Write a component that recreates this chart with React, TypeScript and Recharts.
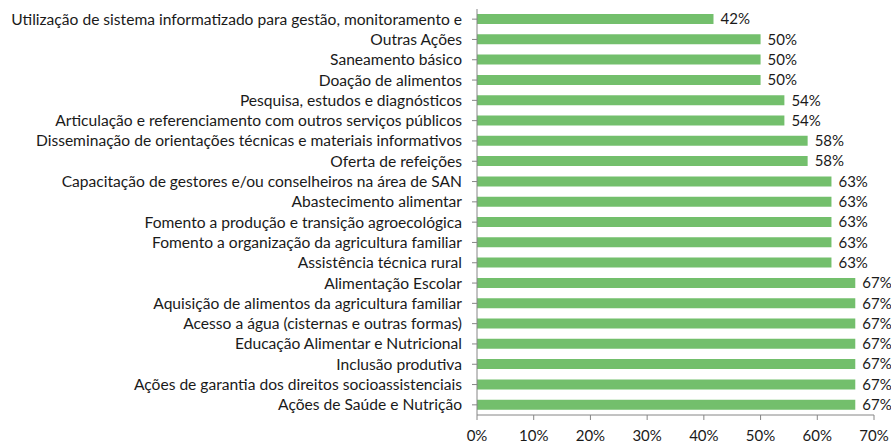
import { BarChart, Bar, XAxis, YAxis } from 'recharts'

const categories = [
  'Utilização de sistema informatizado para gestão, monitoramento e',
  'Outras Ações',
  'Saneamento básico',
  'Doação de alimentos',
  'Pesquisa, estudos e diagnósticos',
  'Articulação e referenciamento com outros serviços públicos',
  'Disseminação de orientações técnicas e materiais informativos',
  'Oferta de refeições',
  'Capacitação de gestores e/ou conselheiros na área de SAN',
  'Abastecimento alimentar',
  'Fomento a produção e transição agroecológica',
  'Fomento a organização da agricultura familiar',
  'Assistência técnica rural',
  'Alimentação Escolar',
  'Aquisição de alimentos da agricultura familiar',
  'Acesso a água (cisternas e outras formas)',
  'Educação Alimentar e Nutricional',
  'Inclusão produtiva',
  'Ações de garantia dos direitos socioassistenciais',
  'Ações de Saúde e Nutrição',
]

// shares in percent
const values = [
  41.7, 50, 50, 50, 54.2, 54.2, 58.3, 58.3, 62.5, 62.5,
  62.5, 62.5, 62.5, 66.7, 66.7, 66.7, 66.7, 66.7, 66.7, 66.7,
]

const xTicks = [0, 10, 20, 30, 40, 50, 60, 70]

const data = categories.map((name, i) => ({ name, value: values[i] }))

const font = 'Lato, "Open Sans", sans-serif'
const textColor = '#1a1a1a'
const axisColor = '#868686'

export default function App() {
  return (
    <div style={{ position: 'absolute', left: 0, top: 0 }}>
      <BarChart
        width={891}
        height={443}
        data={data}
        layout="vertical"
        margin={{ top: 9, right: 17, left: 0, bottom: 0 }}
      >
        <XAxis
          type="number"
          dataKey="value"
          domain={[0, 70]}
          ticks={xTicks}
          tickFormatter={(v) => `${v}%`}
          height={28}
          stroke={axisColor}
          tickSize={5}
          tickMargin={10}
          tick={{ fontSize: 15, fill: textColor, fontFamily: font }}
        />
        <YAxis
          type="category"
          dataKey="name"
          width={477}
          interval={0}
          stroke={axisColor}
          tickSize={5}
          tickMargin={10}
          tick={{ fontSize: 15.6, fill: textColor, fontFamily: font }}
        />
        <Bar
          dataKey="value"
          fill="#73bf6c"
          barSize={10}
          isAnimationActive={false}
          label={{
            position: 'right',
            offset: 7,
            fontSize: 15,
            fill: textColor,
            fontFamily: font,
            formatter: (v: number) => `${Math.round(v)}%`,
          }}
        />
      </BarChart>
    </div>
  )
}
